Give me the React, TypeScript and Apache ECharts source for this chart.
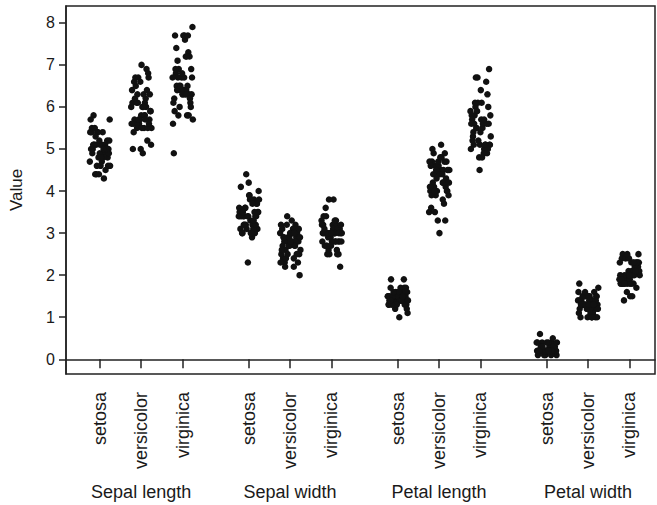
import React, { useEffect, useRef } from "react";
import * as echarts from "echarts";

const SPECIES = ["setosa", "versicolor", "virginica"];
const MEASURES = ["Sepal length", "Sepal width", "Petal length", "Petal width"];
const Y_TICKS = [0, 1, 2, 3, 4, 5, 6, 7, 8];

// 150 iris flowers: rows 1-50 setosa, 51-100 versicolor, 101-150 virginica
const SEPAL_LENGTH = [
  5.1, 4.9, 4.7, 4.6, 5.0, 5.4, 4.6, 5.0, 4.4, 4.9, 5.4, 4.8, 4.8, 4.3, 5.8, 5.7, 5.4, 5.1, 5.7, 5.1,
  5.4, 5.1, 4.6, 5.1, 4.8, 5.0, 5.0, 5.2, 5.2, 4.7, 4.8, 5.4, 5.2, 5.5, 4.9, 5.0, 5.5, 4.9, 4.4, 5.1,
  5.0, 4.5, 4.4, 5.0, 5.1, 4.8, 5.1, 4.6, 5.3, 5.0,
  7.0, 6.4, 6.9, 5.5, 6.5, 5.7, 6.3, 4.9, 6.6, 5.2, 5.0, 5.9, 6.0, 6.1, 5.6, 6.7, 5.6, 5.8, 6.2, 5.6,
  5.9, 6.1, 6.3, 6.1, 6.4, 6.6, 6.8, 6.7, 6.0, 5.7, 5.5, 5.5, 5.8, 6.0, 5.4, 6.0, 6.7, 6.3, 5.6, 5.5,
  5.5, 6.1, 5.8, 5.0, 5.6, 5.7, 5.7, 6.2, 5.1, 5.7,
  6.3, 5.8, 7.1, 6.3, 6.5, 7.6, 4.9, 7.3, 6.7, 7.2, 6.5, 6.4, 6.8, 5.7, 5.8, 6.4, 6.5, 7.7, 7.7, 6.0,
  6.9, 5.6, 7.7, 6.3, 6.7, 7.2, 6.2, 6.1, 6.4, 7.2, 7.4, 7.9, 6.4, 6.3, 6.1, 7.7, 6.3, 6.4, 6.0, 6.9,
  6.7, 6.9, 5.8, 6.8, 6.7, 6.7, 6.3, 6.5, 6.2, 5.9,
];
const SEPAL_WIDTH = [
  3.5, 3.0, 3.2, 3.1, 3.6, 3.9, 3.4, 3.4, 2.9, 3.1, 3.7, 3.4, 3.0, 3.0, 4.0, 4.4, 3.9, 3.5, 3.8, 3.8,
  3.4, 3.7, 3.6, 3.3, 3.4, 3.0, 3.4, 3.5, 3.4, 3.2, 3.1, 3.4, 4.1, 4.2, 3.1, 3.2, 3.5, 3.6, 3.0, 3.4,
  3.5, 2.3, 3.2, 3.5, 3.8, 3.0, 3.8, 3.2, 3.7, 3.3,
  3.2, 3.2, 3.1, 2.3, 2.8, 2.8, 3.3, 2.4, 2.9, 2.7, 2.0, 3.0, 2.2, 2.9, 2.9, 3.1, 3.0, 2.7, 2.2, 2.5,
  3.2, 2.8, 2.5, 2.8, 2.9, 3.0, 2.8, 3.0, 2.9, 2.6, 2.4, 2.4, 2.7, 2.7, 3.0, 3.4, 3.1, 2.3, 3.0, 2.5,
  2.6, 3.0, 2.6, 2.3, 2.7, 3.0, 2.9, 2.9, 2.5, 2.8,
  3.3, 2.7, 3.0, 2.9, 3.0, 3.0, 2.5, 2.9, 2.5, 3.6, 3.2, 2.7, 3.0, 2.5, 2.8, 3.2, 3.0, 3.8, 2.6, 2.2,
  3.2, 2.8, 2.8, 2.7, 3.3, 3.2, 2.8, 3.0, 2.8, 3.0, 2.8, 3.8, 2.8, 2.8, 2.6, 3.0, 3.4, 3.1, 3.0, 3.1,
  3.1, 3.1, 2.7, 3.2, 3.3, 3.0, 2.5, 3.0, 3.4, 3.0,
];
const PETAL_LENGTH = [
  1.4, 1.4, 1.3, 1.5, 1.4, 1.7, 1.4, 1.5, 1.4, 1.5, 1.5, 1.6, 1.4, 1.1, 1.2, 1.5, 1.3, 1.4, 1.7, 1.5,
  1.7, 1.5, 1.0, 1.7, 1.9, 1.6, 1.6, 1.5, 1.4, 1.6, 1.6, 1.5, 1.5, 1.4, 1.5, 1.2, 1.3, 1.4, 1.3, 1.5,
  1.3, 1.3, 1.3, 1.6, 1.9, 1.4, 1.6, 1.4, 1.5, 1.4,
  4.7, 4.5, 4.9, 4.0, 4.6, 4.5, 4.7, 3.3, 4.6, 3.9, 3.5, 4.2, 4.0, 4.7, 3.6, 4.4, 4.5, 4.1, 4.5, 3.9,
  4.8, 4.0, 4.9, 4.7, 4.3, 4.4, 4.8, 5.0, 4.5, 3.5, 3.8, 3.7, 3.9, 5.1, 4.5, 4.5, 4.7, 4.4, 4.1, 4.0,
  4.4, 4.6, 4.0, 3.3, 4.2, 4.2, 4.2, 4.3, 3.0, 4.1,
  6.0, 5.1, 5.9, 5.6, 5.8, 6.6, 4.5, 6.3, 5.8, 6.1, 5.1, 5.3, 5.5, 5.0, 5.1, 5.3, 5.5, 6.7, 6.9, 5.0,
  5.7, 4.9, 6.7, 4.9, 5.7, 6.0, 4.8, 4.9, 5.6, 5.8, 6.1, 6.4, 5.6, 5.1, 5.6, 6.1, 5.6, 5.5, 4.8, 5.4,
  5.6, 5.1, 5.1, 5.9, 5.7, 5.2, 5.0, 5.2, 5.4, 5.1,
];
const PETAL_WIDTH = [
  0.2, 0.2, 0.2, 0.2, 0.2, 0.4, 0.3, 0.2, 0.2, 0.1, 0.2, 0.2, 0.1, 0.1, 0.2, 0.4, 0.4, 0.3, 0.3, 0.3,
  0.2, 0.4, 0.2, 0.5, 0.2, 0.2, 0.4, 0.2, 0.2, 0.2, 0.2, 0.4, 0.1, 0.2, 0.2, 0.2, 0.2, 0.1, 0.2, 0.2,
  0.3, 0.3, 0.2, 0.6, 0.4, 0.3, 0.2, 0.2, 0.2, 0.2,
  1.4, 1.5, 1.5, 1.3, 1.5, 1.3, 1.6, 1.0, 1.3, 1.4, 1.0, 1.5, 1.0, 1.4, 1.3, 1.4, 1.5, 1.0, 1.5, 1.1,
  1.8, 1.3, 1.5, 1.2, 1.3, 1.4, 1.4, 1.7, 1.5, 1.0, 1.1, 1.0, 1.2, 1.6, 1.5, 1.6, 1.5, 1.3, 1.3, 1.3,
  1.2, 1.4, 1.2, 1.0, 1.3, 1.2, 1.3, 1.3, 1.1, 1.3,
  2.5, 1.9, 2.1, 1.8, 2.2, 2.1, 1.7, 1.8, 1.8, 2.5, 2.0, 1.9, 2.1, 2.0, 2.4, 2.3, 1.8, 2.2, 2.3, 1.5,
  2.3, 2.0, 2.0, 1.8, 2.1, 1.8, 1.8, 1.8, 2.1, 1.6, 1.9, 2.0, 2.2, 1.5, 1.4, 2.3, 2.4, 1.8, 1.8, 2.1,
  2.4, 2.3, 1.9, 2.3, 2.5, 2.3, 1.9, 2.0, 2.3, 1.8,
];

// horizontal strip-chart jitter (axis units), one per flower within a species
const JITTER = [
  0.12, -0.18, 0.05, -0.07, 0.21, -0.23, 0.02, 0.16, -0.11, 0.08, -0.2, 0.19, -0.03, 0.1, -0.15, 0.24,
  -0.06, 0.01, -0.22, 0.13, 0.07, -0.13, 0.2, -0.09, 0.04, -0.17, 0.15, -0.01, 0.23, -0.24, 0.09, -0.05,
  0.18, -0.19, 0.0, 0.11, -0.12, 0.22, -0.08, 0.06, -0.21, 0.14, -0.02, 0.17, -0.14, 0.03, -0.16, 0.25,
  -0.1, 0.09,
];

const MEASURE_DATA = [SEPAL_LENGTH, SEPAL_WIDTH, PETAL_LENGTH, PETAL_WIDTH];
const GROUP_STEP = 3.6;
const pos = (g: number, s: number) => Math.round((1 + g * GROUP_STEP + s) * 100) / 100;

const FONT = "'Liberation Sans', Arial, Helvetica, sans-serif";
const INK = "#1a1a1a";

export default function App() {
  const ref = useRef<HTMLDivElement>(null);
  useEffect(() => {
    if (!ref.current) return;
    const chart = echarts.init(ref.current, undefined, { renderer: "svg" });

    const tickPos: number[] = [];
    const tickName: Record<string, string> = {};
    const groupPos: number[] = [];
    const groupName: Record<string, string> = {};
    const points: number[][] = [];
    MEASURES.forEach((m, g) => {
      const center = pos(g, 1);
      groupPos.push(center);
      groupName[String(center)] = m;
      SPECIES.forEach((sp, s) => {
        const p = pos(g, s);
        tickPos.push(p);
        tickName[String(p)] = sp;
        const k = g * 3 + s;
        for (let i = 0; i < 50; i++) {
          const v = MEASURE_DATA[g][s * 50 + i];
          const j = JITTER[(i + 17 * k) % 50];
          points.push([p + j, v]);
        }
      });
    });

    const xMin = 0.184;
    const xMax = 14.42;

    chart.setOption({
      animation: false,
      grid: {
        left: 61,
        top: 6,
        right: 2,
        bottom: 131,
        show: true,
        borderColor: "#222",
        borderWidth: 1.5,
        backgroundColor: "transparent",
      },
      xAxis: [
        {
          type: "value",
          position: "bottom",
          min: xMin,
          max: xMax,
          splitLine: { show: false },
          axisLine: { show: true, lineStyle: { color: "#222", width: 1.5 } },
          axisTick: {
            show: true,
            customValues: tickPos,
            length: 9,
            lineStyle: { color: "#222", width: 1.5 },
          },
          axisLabel: {
            show: true,
            customValues: tickPos,
            rotate: 90,
            margin: 18,
            fontSize: 18,
            fontFamily: FONT,
            color: INK,
            formatter: (v: number) => tickName[String(Math.round(v * 100) / 100)] ?? "",
          },
        },
        {
          type: "value",
          position: "bottom",
          gridIndex: 0,
          min: xMin,
          max: xMax,
          splitLine: { show: false },
          axisLine: { show: false },
          axisTick: { show: false },
          axisLabel: {
            show: true,
            customValues: groupPos,
            margin: 109,
            fontSize: 18,
            fontFamily: FONT,
            color: INK,
            formatter: (v: number) => groupName[String(Math.round(v * 100) / 100)] ?? "",
          },
        },
      ],
      yAxis: {
        type: "value",
        min: -0.35,
        max: 8.4,
        name: "Value",
        nameLocation: "middle",
        nameRotate: 90,
        nameGap: 41,
        nameTextStyle: { fontSize: 17, fontFamily: FONT, color: INK },
        splitLine: { show: false },
        axisLine: { show: true, lineStyle: { color: "#222", width: 1.5 } },
        axisTick: {
          show: true,
          customValues: Y_TICKS,
          length: 7,
          lineStyle: { color: "#222", width: 1.5 },
        },
        axisLabel: {
          show: true,
          customValues: Y_TICKS,
          margin: 11,
          fontSize: 16,
          fontFamily: FONT,
          color: INK,
        },
      },
      series: [
        {
          type: "scatter",
          xAxisIndex: 0,
          yAxisIndex: 0,
          symbol: "circle",
          symbolSize: 6.5,
          itemStyle: { color: "#111", opacity: 1 },
          data: points,
        },
      ],
    });
    return () => chart.dispose();
  }, []);

  return (
    <div
      ref={ref}
      style={{ position: "fixed", left: 0, top: 0, width: 657, height: 505, background: "#fff" }}
    />
  );
}
